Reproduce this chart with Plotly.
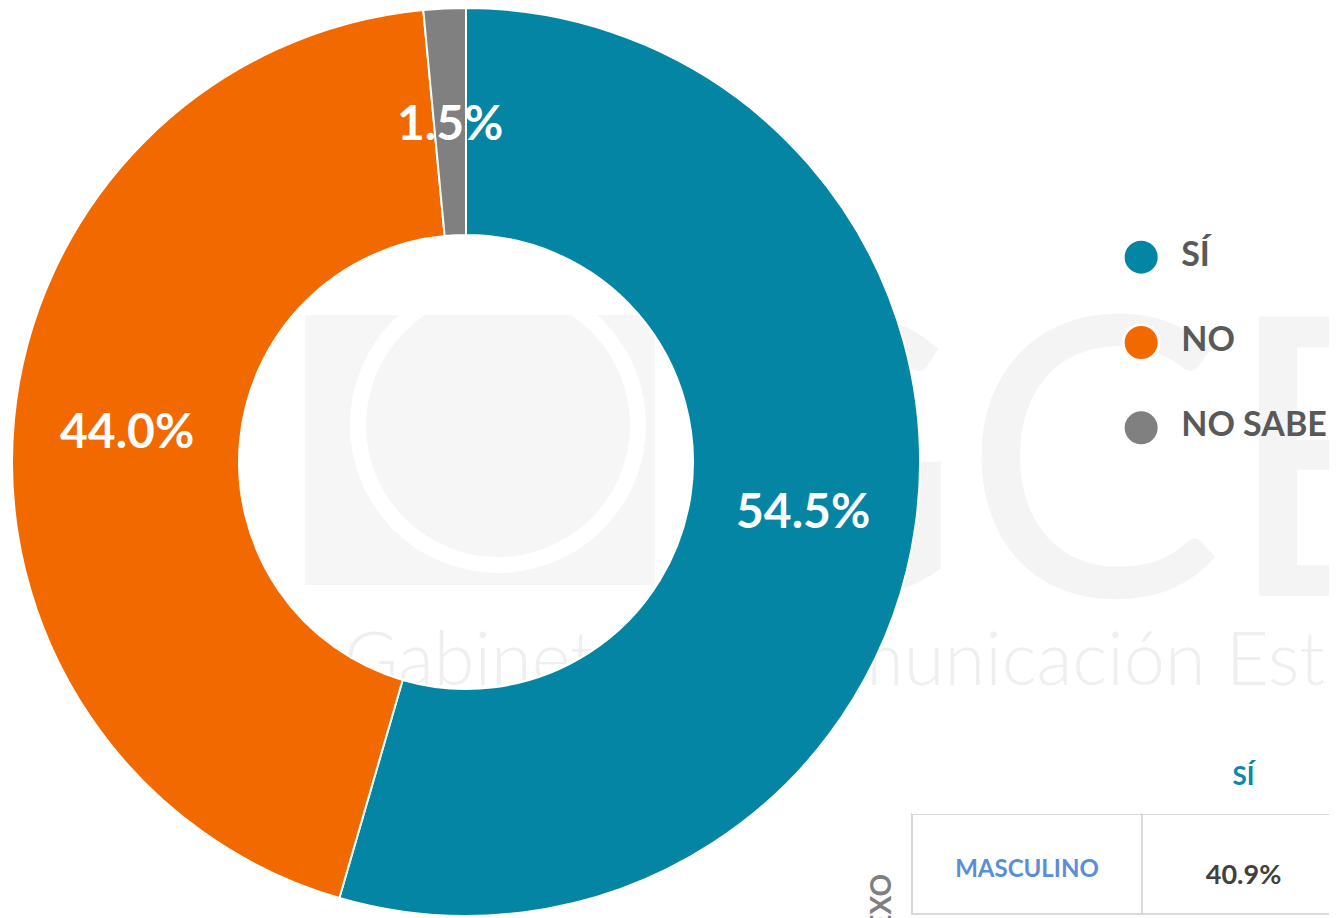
import math
import plotly.graph_objects as go

# datos de la encuesta
labels = ["SÍ", "NO", "NO SABE"]
values = [54.5, 44.0, 1.5]
colors = ["#0485a3", "#f26900", "#808080"]

# tabla por sexo (solo se ve la primera fila)
table_header = ["", "SÍ"]
table_rows = ["MASCULINO"]
table_si = ["40.9%"]

W, H = 1337, 918
FONT = "Lato"
OFF = 8  # margen del body de la pagina


def px(sx):
    return (sx - OFF) / W


def py(sy):
    return 1 - (sy - OFF) / H


# geometria del anillo (en pixeles de pantalla)
CX, CY, R = 466, 462, 454

fig = go.Figure()

fig.add_trace(go.Pie(
    labels=labels, values=values, sort=False, direction="clockwise",
    hole=0.5,
    domain=dict(x=[px(CX - R), px(CX + R)], y=[py(CY + R), py(CY - R)]),
    marker=dict(colors=colors, line=dict(color="white", width=2)),
    textinfo="none", showlegend=False, hoverinfo="label+value",
))

# etiquetas de porcentaje en el centro angular de cada sector
total = sum(values)
acc = 0
for v in values:
    ang = 2 * math.pi * (acc + v / 2) / total
    acc += v
    r = 0.75 * R
    fig.add_annotation(
        x=px(CX + r * math.sin(ang)), y=py(CY - r * math.cos(ang)),
        xref="paper", yref="paper", xanchor="center", yanchor="middle",
        showarrow=False, text=f"{v:.1f}%",
        font=dict(family=FONT, size=48, color="white", weight="bold"))

# leyenda con circulos
fig.add_trace(go.Scatter(
    x=[0] * len(labels), y=labels, mode="markers+text",
    text=["\u00a0\u00a0" + l for l in labels], textposition="middle right",
    textfont=dict(family=FONT, size=34, color="#595959", weight="bold"),
    marker=dict(size=36, color=colors, line=dict(color="white", width=3)),
    cliponaxis=False, showlegend=False, hoverinfo="skip",
    xaxis="x", yaxis="y",
))

fig.add_trace(go.Table(
    domain=dict(x=[px(912), 1], y=[0, py(757)]),
    columnwidth=[230, 203],
    header=dict(values=table_header, height=57, align="center",
                fill_color="white", line=dict(color="white", width=0),
                font=dict(family=FONT, size=26, color="#0a8aa8", weight="bold")),
    cells=dict(values=[["\u00a0<br>" + t for t in table_rows],
                       ["\u00a0<br>" + t for t in table_si]],
               height=100, align="center",
               fill_color="white", line=dict(color="#d9d9d9", width=2),
               font=dict(family=FONT, size=[24, 27], color=["#5b8dd9", "#404040"],
                         weight="bold")),
))

# marca de agua (debajo de todo)
wm = "#f4f4f4"
fig.add_shape(type="rect", xref="paper", yref="paper", layer="below",
              x0=px(305), x1=px(655), y0=py(585), y1=py(315),
              line=dict(width=0), fillcolor="#f6f6f6")
fig.add_shape(type="circle", xref="paper", yref="paper", layer="below",
              x0=px(358), x1=px(638), y0=py(565), y1=py(285),
              line=dict(width=16, color="white"), fillcolor="rgba(0,0,0,0)")
fig.add_shape(type="rect", xref="paper", yref="paper", layer="below",
              x0=px(672), x1=1 + 200 / W, y0=py(600), y1=py(280),
              line=dict(width=0), fillcolor="rgba(0,0,0,0)",
              label=dict(text="GCE", textposition="middle left",
                         font=dict(family=FONT, size=390, color=wm)))
fig.add_shape(type="rect", xref="paper", yref="paper", layer="below",
              x0=px(338), x1=1 + 500 / W, y0=py(700), y1=py(610),
              line=dict(width=0), fillcolor="rgba(0,0,0,0)",
              label=dict(text="Gabinete de Comunicación Estratégica",
                         textposition="middle left",
                         font=dict(family=FONT, size=74, color="#efefef",
                                   weight=300)))

fig.add_annotation(x=px(880), y=py(910), xref="paper", yref="paper",
                   xanchor="center", yanchor="middle",
                   text="SEXO", textangle=-90, showarrow=False,
                   font=dict(family=FONT, size=28, color="#7f7f7f", weight="bold"))

fig.update_layout(
    width=W, height=H, margin=dict(l=0, r=0, t=0, b=0),
    paper_bgcolor="white", plot_bgcolor="rgba(0,0,0,0)",
    xaxis=dict(domain=[px(1100), 1], range=[-0.168, 0.832], visible=False,
               fixedrange=True),
    yaxis=dict(domain=[py(470.5), py(214.5)], range=[2.5, -0.5],
               visible=False, fixedrange=True),
)

fig.write_html("out.html")
